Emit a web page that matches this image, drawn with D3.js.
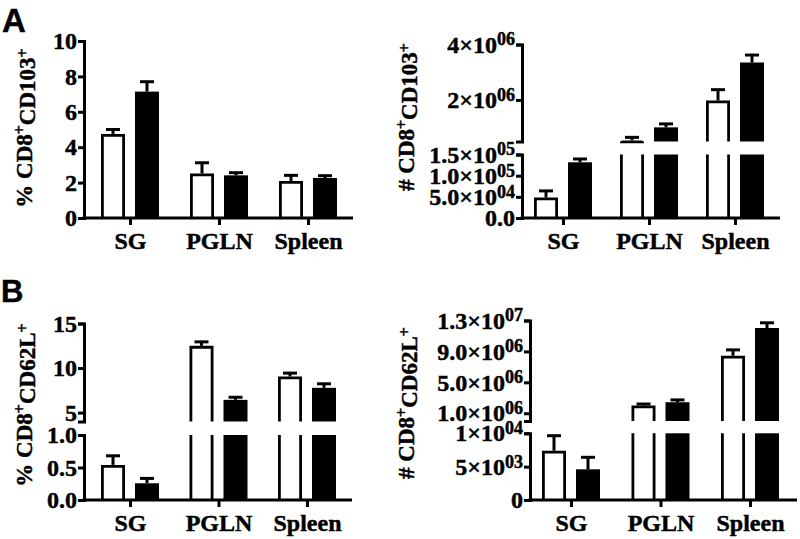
<!DOCTYPE html>
<html><head><meta charset="utf-8">
<script src="https://cdn.jsdelivr.net/npm/d3@7"></script>
<style>body{margin:0;background:#fff}svg{display:block}text{stroke:#000;stroke-width:0.45px;paint-order:stroke}</style>
</head><body><svg id="c" width="800" height="539"></svg>
<script>
// ---------------- DATA ----------------
const categories = ["SG", "PGLN", "Spleen"];
const groups = ["open", "filled"];

// Panel A, left: % CD8+CD103+
const aPctOpen = [4.75, 2.52, 2.09];
const aPctOpenSem = [0.25, 0.60, 0.32];
const aPctFilled = [7.14, 2.41, 2.26];
const aPctFilledSem = [0.56, 0.15, 0.13];
const aPctDomain = [0, 10];
const aPctTicks = [0, 2, 4, 6, 8, 10];
const aPctTickLabels = [["0"], ["2"], ["4"], ["6"], ["8"], ["10"]];

// Panel A, right: # CD8+CD103+
const aNumOpen = [48400, 540000, 1980000];
const aNumOpenSem = [15600, 110000, 390000];
const aNumFilled = [131600, 1010000, 3350000];
const aNumFilledSem = [7800, 125000, 270000];
const aNumLowDomain = [0, 150000];
const aNumLowTicks = [0, 50000, 100000, 150000];
const aNumLowTickLabels = [["0.0"], ["5.0×10", "04"], ["1.0×10", "05"], ["1.5×10", "05"]];
const aNumHighDomain = [500000, 4000000];
const aNumHighTicks = [2000000, 4000000];
const aNumHighTickLabels = [["2×10", "06"], ["4×10", "06"]];

// Panel B, left: % CD8+CD62L+
const bPctOpen = [0.54, 12.49, 9.06];
const bPctOpenSem = [0.14, 0.45, 0.37];
const bPctFilled = [0.257, 6.43, 7.78];
const bPctFilledSem = [0.075, 0.29, 0.45];
const bPctLowDomain = [0, 1];
const bPctLowTicks = [0, 0.5, 1.0];
const bPctLowTickLabels = [["0.0"], ["0.5"], ["1.0"]];
const bPctHighDomain = [4, 15];
const bPctHighTicks = [5, 10, 15];
const bPctHighTickLabels = [["5"], ["10"], ["15"]];

// Panel B, right: # CD8+CD62L+
const bNumOpen = [7390, 2000000, 8440000];
const bNumOpenSem = [2250, 200000, 760000];
const bNumFilled = [4600, 2430000, 12030000];
const bNumFilledSem = [1800, 300000, 670000];
const bNumLowDomain = [0, 10000];
const bNumLowTicks = [0, 5000, 10000];
const bNumLowTickLabels = [["0"], ["5×10", "03"], ["1×10", "04"]];
const bNumHighDomain = [0, 13000000];
const bNumHighTicks = [1000000, 5000000, 9000000, 13000000];
const bNumHighTickLabels = [["1.0×10", "06"], ["5.0×10", "06"], ["9.0×10", "06"], ["1.3×10", "07"]];

// ---------------- DRAWING ----------------
const svg = d3.select("#c");
const SERIF = "'Liberation Serif','Times New Roman',serif";

function setLabel(textSel, parts, baseSize, supSize) {
  textSel.text(null);
  textSel.append("tspan").text(parts[0]);
  if (parts[1]) {
    textSel.append("tspan").attr("dy", "-0.40em").attr("font-size", supSize + "px").text(parts[1]);
  }
}

function panel(cfg) {
  const g = svg.append("g");
  const x = d3.scalePoint().domain(categories).range(cfg.cx);
  const sub = d3.scaleBand().domain(groups).range([-29, 29]).paddingInner(0.294);
  const segs = cfg.segs.map(s => Object.assign({}, s, {
    y: d3.scaleLinear().domain(s.domain).range(s.range)
  }));
  const series = [
    { key: "open", vals: cfg.open, sem: cfg.openSem },
    { key: "filled", vals: cfg.filled, sem: cfg.filledSem }
  ];
  const sw = 2.8;
  series.forEach(se => {
    se.vals.forEach((v, i) => {
      const xl = x(categories[i]) + sub(se.key);
      const xr = xl + sub.bandwidth();
      const xc = (xl + xr) / 2;
      let si = segs.findIndex(s => v <= s.domain[1]);
      if (si < 0) si = segs.length - 1;
      for (let k = 0; k <= si; k++) {
        const yb = segs[k].range[0];
        const yt = k < si ? segs[k].range[1] : segs[k].y(v);
        const isTop = k === si;
        if (se.key === "filled") {
          g.append("rect").attr("x", xl).attr("y", yt).attr("width", xr - xl)
            .attr("height", Math.max(0, yb - yt)).attr("fill", "#000");
        } else {
          const a = xl + sw / 2, b = xr - sw / 2;
          const ytt = isTop ? yt + sw / 2 : yt;
          const d = isTop
            ? `M${a},${yb}V${ytt}H${b}V${yb}`
            : `M${a},${yb}V${ytt}M${b},${yb}V${ytt}`;
          g.append("path").attr("d", d).attr("fill", "none")
            .attr("stroke", "#000").attr("stroke-width", sw);
        }
      }
      // error bar
      const yTop = segs[si].y(v);
      const yErr = segs[si].y(v + se.sem[i]);
      g.append("line").attr("x1", xc).attr("x2", xc).attr("y1", yTop).attr("y2", yErr)
        .attr("stroke", "#000").attr("stroke-width", 3);
      g.append("line").attr("x1", xc - 7).attr("x2", xc + 7).attr("y1", yErr).attr("y2", yErr)
        .attr("stroke", "#000").attr("stroke-width", 3);
    });
  });

  // y axes (one per segment)
  segs.forEach(s => {
    const ax = g.append("g").attr("transform", `translate(${cfg.ax},0)`)
      .call(d3.axisLeft(s.y).tickValues(s.ticks).tickSize(6).tickPadding(1).tickFormat(() => ""));
    ax.select(".domain").attr("stroke-width", 3);
    ax.selectAll(".tick line").attr("stroke-width", 3);
    ax.selectAll(".tick text").each(function (d, i) {
      setLabel(d3.select(this), s.labels[i], cfg.tickFont, cfg.supFont);
    }).attr("font-family", SERIF).attr("font-weight", "bold")
      .attr("font-size", cfg.tickFont + "px").attr("fill", "#000");
  });

  // x axis
  g.append("line").attr("x1", cfg.ax - 1.5).attr("x2", cfg.xEnd)
    .attr("y1", cfg.y0).attr("y2", cfg.y0).attr("stroke", "#000").attr("stroke-width", 3);
  const xa = g.append("g").attr("transform", `translate(0,${cfg.y0})`)
    .call(d3.axisBottom(x).tickSize(7).tickPadding(2));
  xa.select(".domain").remove();
  xa.selectAll(".tick line").attr("stroke-width", 3);
  xa.selectAll(".tick text").attr("y", 31).attr("dy", null)
    .attr("font-family", SERIF).attr("font-weight", "bold").attr("font-size", "24px").attr("fill", "#000");

  // y title
  const t = g.append("text")
    .attr("transform", `translate(${cfg.titleX},${cfg.titleY}) rotate(-90)`)
    .attr("text-anchor", "middle").attr("dy", "0.35em")
    .attr("font-family", SERIF).attr("font-weight", "bold").attr("font-size", "23px");
  cfg.title.forEach(p => {
    if (p.sup) t.append("tspan").attr("dy", "-0.45em").attr("font-size", "16px").text(p.t);
    else t.append("tspan").attr("dy", p.down ? "0.45em" : null).text(p.t);
  });
}

const title103 = (pre) => [{ t: pre + " CD8" }, { t: "+", sup: true }, { t: "CD103", down: true }, { t: "+", sup: true }];
const title62 = (pre) => [{ t: pre + " CD8" }, { t: "+", sup: true }, { t: "CD62L", down: true }, { t: "+", sup: true }];

panel({
  ax: 84, xEnd: 353, y0: 218, cx: [130, 308],
  open: aPctOpen, openSem: aPctOpenSem, filled: aPctFilled, filledSem: aPctFilledSem,
  segs: [{ domain: aPctDomain, range: [218, 41], ticks: aPctTicks, labels: aPctTickLabels }],
  tickFont: 24, supFont: 18, titleX: 24, titleY: 128, title: title103("%")
});
panel({
  ax: 522, xEnd: 780, y0: 218, cx: [563, 735],
  open: aNumOpen, openSem: aNumOpenSem, filled: aNumFilled, filledSem: aNumFilledSem,
  segs: [
    { domain: aNumLowDomain, range: [218, 154.5], ticks: aNumLowTicks, labels: aNumLowTickLabels },
    { domain: aNumHighDomain, range: [141.5, 44.5], ticks: aNumHighTicks, labels: aNumHighTickLabels }
  ],
  tickFont: 24, supFont: 18, titleX: 406, titleY: 117, title: title103("#")
});
panel({
  ax: 84, xEnd: 352, y0: 500, cx: [130, 307],
  open: bPctOpen, openSem: bPctOpenSem, filled: bPctFilled, filledSem: bPctFilledSem,
  segs: [
    { domain: bPctLowDomain, range: [500, 435], ticks: bPctLowTicks, labels: bPctLowTickLabels },
    { domain: bPctHighDomain, range: [421.5, 323.5], ticks: bPctHighTicks, labels: bPctHighTickLabels }
  ],
  tickFont: 24, supFont: 18, titleX: 24, titleY: 405, title: title62("%")
});
panel({
  ax: 530, xEnd: 797, y0: 500, cx: [571, 750],
  open: bNumOpen, openSem: bNumOpenSem, filled: bNumFilled, filledSem: bNumFilledSem,
  segs: [
    { domain: bNumLowDomain, range: [500, 433.3], ticks: bNumLowTicks, labels: bNumLowTickLabels },
    { domain: bNumHighDomain, range: [421, 320.5], ticks: bNumHighTicks, labels: bNumHighTickLabels }
  ],
  tickFont: 24, supFont: 18, titleX: 406, titleY: 403, title: title62("#")
});

// panel letters
svg.append("text").attr("x", 2).attr("y", 32).text("A")
  .attr("font-family", "'Liberation Sans',Arial,sans-serif").attr("font-weight", "bold").attr("font-size", "33px");
svg.append("text").attr("x", 1).attr("y", 302).text("B")
  .attr("font-family", "'Liberation Sans',Arial,sans-serif").attr("font-weight", "bold").attr("font-size", "31px");
</script>
</body></html>
